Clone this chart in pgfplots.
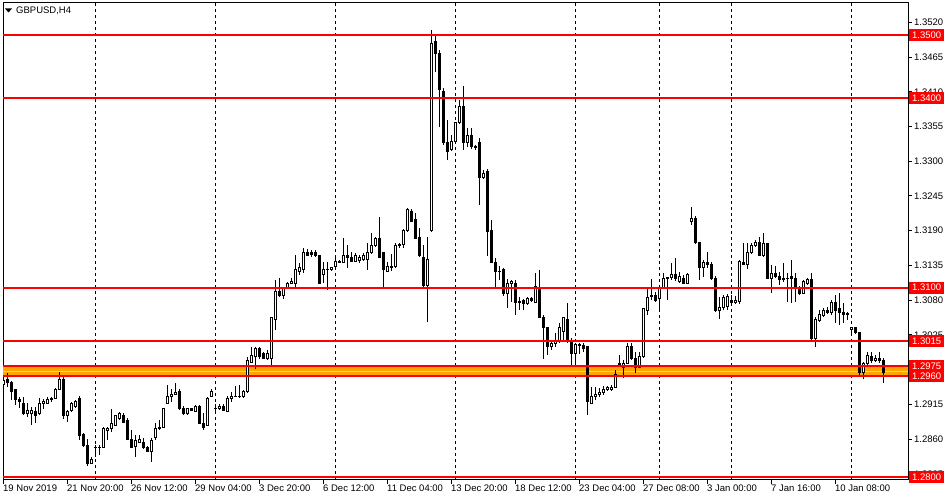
\documentclass[border=0pt]{standalone}
\usepackage{fontspec}
\setmainfont{Liberation Sans}
\usepackage{pgfplots}
\usepackage{pgfplotstable}
\pgfplotsset{compat=1.18}

% GBPUSD H4 candles, bar index, open high low close
\pgfplotstableread{
i o h l c
0 1.2946 1.2957 1.2944 1.2952
1 1.2955 1.2965 1.2942 1.2949
2 1.2950 1.2952 1.2922 1.2935
3 1.2938 1.2939 1.2914 1.2923
4 1.2922 1.2927 1.2909 1.2920
5 1.2917 1.2927 1.2898 1.2901
6 1.2901 1.2917 1.2895 1.2906
7 1.2900 1.2911 1.2882 1.2906
8 1.2904 1.2911 1.2885 1.2898
9 1.2900 1.2925 1.2898 1.2917
10 1.2917 1.2923 1.2908 1.2919
11 1.2917 1.2927 1.2915 1.2923
12 1.2923 1.2927 1.2919 1.2924
13 1.2925 1.2941 1.2923 1.2939
14 1.2939 1.2966 1.2938 1.2954
15 1.2955 1.2958 1.2892 1.2898
16 1.2898 1.2906 1.2887 1.2903
17 1.2906 1.2919 1.2903 1.2917
18 1.2912 1.2922 1.2909 1.2919
19 1.2925 1.2928 1.2858 1.2866
20 1.2868 1.2870 1.2847 1.2850
21 1.2850 1.2860 1.2817 1.2822
22 1.2822 1.2832 1.2820 1.2828
23 1.2847 1.2850 1.2832 1.2846
24 1.2846 1.2850 1.2835 1.2847
25 1.2847 1.2879 1.2846 1.2877
26 1.2873 1.2879 1.2858 1.2877
27 1.2876 1.2908 1.2871 1.2885
28 1.2882 1.2898 1.2881 1.2897
29 1.2893 1.2903 1.2890 1.2901
30 1.2898 1.2901 1.2885 1.2887
31 1.2890 1.2893 1.2858 1.2860
32 1.2860 1.2874 1.2846 1.2847
33 1.2849 1.2866 1.2832 1.2858
34 1.2855 1.2866 1.2854 1.2860
35 1.2855 1.2862 1.2844 1.2847
36 1.2847 1.2849 1.2839 1.2841
37 1.2841 1.2862 1.2824 1.2858
38 1.2862 1.2885 1.2858 1.2877
39 1.2877 1.2890 1.2874 1.2879
40 1.2879 1.2909 1.2877 1.2908
41 1.2917 1.2946 1.2915 1.2928
42 1.2927 1.2939 1.2919 1.2931
43 1.2931 1.2949 1.2930 1.2933
44 1.2935 1.2939 1.2906 1.2908
45 1.2908 1.2912 1.2898 1.2901
46 1.2900 1.2909 1.2898 1.2908
47 1.2908 1.2909 1.2904 1.2906
48 1.2904 1.2914 1.2903 1.2912
49 1.2911 1.2914 1.2884 1.2885
50 1.2885 1.2901 1.2874 1.2879
51 1.2882 1.2927 1.2881 1.2925
52 1.2928 1.2939 1.2927 1.2935
53 1.2909 1.2915 1.2901 1.2908
54 1.2909 1.2915 1.2906 1.2911
55 1.2911 1.2915 1.2904 1.2906
56 1.2904 1.2928 1.2903 1.2925
57 1.2925 1.2935 1.2919 1.2928
58 1.2928 1.2944 1.2927 1.2927
59 1.2927 1.2946 1.2925 1.2928
60 1.2927 1.2938 1.2925 1.2935
61 1.2935 1.2990 1.2933 1.2984
62 1.2982 1.3006 1.2980 1.2993
63 1.2990 1.3006 1.2971 1.3004
64 1.3004 1.3006 1.2987 1.2990
65 1.2995 1.2998 1.2987 1.2988
66 1.2988 1.3001 1.2985 1.2996
67 1.2987 1.3053 1.2977 1.3052
68 1.3050 1.3112 1.3033 1.3093
69 1.3093 1.3115 1.3085 1.3088
70 1.3088 1.3101 1.3082 1.3099
71 1.3099 1.3109 1.3099 1.3107
72 1.3107 1.3115 1.3105 1.3109
73 1.3107 1.3152 1.3101 1.3129
74 1.3125 1.3139 1.3120 1.3131
75 1.3128 1.3163 1.3123 1.3155
76 1.3156 1.3161 1.3151 1.3151
77 1.3156 1.3159 1.3149 1.3153
78 1.3156 1.3159 1.3148 1.3150
79 1.3150 1.3151 1.3106 1.3107
80 1.3120 1.3140 1.3107 1.3128
81 1.3128 1.3140 1.3096 1.3129
82 1.3128 1.3133 1.3126 1.3131
83 1.3134 1.3147 1.3131 1.3142
84 1.3142 1.3144 1.3139 1.3140
85 1.3140 1.3178 1.3139 1.3150
86 1.3151 1.3167 1.3131 1.3148
87 1.3148 1.3156 1.3140 1.3142
88 1.3142 1.3155 1.3140 1.3150
89 1.3143 1.3151 1.3139 1.3148
90 1.3145 1.3155 1.3142 1.3151
91 1.3145 1.3171 1.3128 1.3155
92 1.3155 1.3186 1.3153 1.3167
93 1.3166 1.3180 1.3164 1.3178
94 1.3178 1.3212 1.3147 1.3148
95 1.3155 1.3156 1.3101 1.3129
96 1.3126 1.3140 1.3125 1.3134
97 1.3131 1.3153 1.3126 1.3134
98 1.3134 1.3171 1.3131 1.3167
99 1.3167 1.3171 1.3163 1.3168
100 1.3168 1.3193 1.3163 1.3190
101 1.3190 1.3226 1.3188 1.3223
102 1.3221 1.3224 1.3204 1.3205
103 1.3207 1.3218 1.3177 1.3178
104 1.3180 1.3194 1.3148 1.3151
105 1.3148 1.3167 1.3101 1.3104
106 1.3104 1.3180 1.3045 1.3144
107 1.3191 1.3508 1.3188 1.3487
108 1.3489 1.3500 1.3441 1.3470
109 1.3470 1.3476 1.3354 1.3413
110 1.3411 1.3416 1.3326 1.3329
111 1.3329 1.3365 1.3302 1.3316
112 1.3319 1.3342 1.3316 1.3331
113 1.3331 1.3362 1.3329 1.3361
114 1.3361 1.3397 1.3359 1.3386
115 1.3386 1.3419 1.3318 1.3329
116 1.3329 1.3353 1.3323 1.3340
117 1.3340 1.3353 1.3319 1.3323
118 1.3323 1.3326 1.3318 1.3322
119 1.3330 1.3337 1.3231 1.3275
120 1.3275 1.3286 1.3272 1.3281
121 1.3283 1.3288 1.3150 1.3188
122 1.3190 1.3207 1.3139 1.3140
123 1.3140 1.3147 1.3099 1.3125
124 1.3125 1.3134 1.3112 1.3126
125 1.3128 1.3131 1.3087 1.3091
126 1.3091 1.3114 1.3068 1.3107
127 1.3107 1.3112 1.3077 1.3109
128 1.3107 1.3112 1.3056 1.3077
129 1.3077 1.3085 1.3064 1.3078
130 1.3079 1.3082 1.3064 1.3074
131 1.3074 1.3085 1.3072 1.3082
132 1.3082 1.3085 1.3077 1.3080
133 1.3077 1.3123 1.3076 1.3102
134 1.3099 1.3128 1.3053 1.3053
135 1.3053 1.3056 1.2987 1.3036
136 1.3036 1.3037 1.2993 1.3006
137 1.3006 1.3017 1.3001 1.3012
138 1.3012 1.3028 1.3006 1.3014
139 1.3014 1.3044 1.3013 1.3036
140 1.3030 1.3053 1.3017 1.3052
141 1.3050 1.3076 1.3012 1.3014
142 1.3014 1.3020 1.2977 1.2996
143 1.2996 1.3012 1.2980 1.3009
144 1.3009 1.3012 1.2995 1.3008
145 1.3008 1.3012 1.2998 1.3004
146 1.3006 1.3007 1.2898 1.2919
147 1.2917 1.2942 1.2915 1.2928
148 1.2927 1.2942 1.2922 1.2931
149 1.2930 1.2941 1.2927 1.2933
150 1.2933 1.2944 1.2930 1.2939
151 1.2939 1.2944 1.2936 1.2941
152 1.2939 1.2946 1.2936 1.2942
153 1.2942 1.2969 1.2941 1.2963
154 1.2980 1.2993 1.2974 1.2975
155 1.2974 1.2985 1.2957 1.2980
156 1.2980 1.3012 1.2979 1.3006
157 1.3006 1.3012 1.2985 1.2988
158 1.2988 1.2998 1.2965 1.2974
159 1.2974 1.2998 1.2972 1.2990
160 1.2990 1.3068 1.2988 1.3066
161 1.3064 1.3099 1.3056 1.3085
162 1.3085 1.3114 1.3080 1.3088
163 1.3088 1.3093 1.3077 1.3080
164 1.3082 1.3101 1.3061 1.3099
165 1.3099 1.3123 1.3098 1.3115
166 1.3115 1.3117 1.3080 1.3116
167 1.3116 1.3139 1.3112 1.3121
168 1.3120 1.3147 1.3110 1.3115
169 1.3109 1.3125 1.3107 1.3117
170 1.3115 1.3120 1.3106 1.3107
171 1.3107 1.3123 1.3105 1.3121
172 1.3205 1.3228 1.3199 1.3210
173 1.3210 1.3213 1.3169 1.3171
174 1.3171 1.3172 1.3112 1.3131
175 1.3131 1.3144 1.3117 1.3140
176 1.3140 1.3156 1.3131 1.3137
177 1.3137 1.3140 1.3112 1.3115
178 1.3115 1.3118 1.3061 1.3064
179 1.3064 1.3085 1.3050 1.3069
180 1.3069 1.3088 1.3064 1.3085
181 1.3070 1.3090 1.3064 1.3085
182 1.3080 1.3088 1.3071 1.3076
183 1.3076 1.3087 1.3074 1.3079
184 1.3078 1.3144 1.3074 1.3142
185 1.3140 1.3171 1.3135 1.3137
186 1.3137 1.3171 1.3129 1.3156
187 1.3155 1.3171 1.3153 1.3167
188 1.3166 1.3175 1.3164 1.3172
189 1.3171 1.3180 1.3150 1.3151
190 1.3150 1.3186 1.3148 1.3169
191 1.3169 1.3171 1.3113 1.3115
192 1.3115 1.3136 1.3091 1.3123
193 1.3123 1.3134 1.3115 1.3118
194 1.3118 1.3125 1.3104 1.3112
195 1.3112 1.3139 1.3109 1.3114
196 1.3114 1.3123 1.3077 1.3115
197 1.3118 1.3144 1.3076 1.3115
198 1.3115 1.3123 1.3077 1.3098
199 1.3099 1.3102 1.3088 1.3091
200 1.3091 1.3112 1.3090 1.3109
201 1.3107 1.3115 1.3104 1.3112
202 1.3112 1.3123 1.3014 1.3020
203 1.3020 1.3053 1.3006 1.3049
204 1.3047 1.3064 1.3045 1.3058
205 1.3056 1.3068 1.3053 1.3064
206 1.3064 1.3069 1.3058 1.3060
207 1.3060 1.3080 1.3056 1.3077
208 1.3077 1.3088 1.3044 1.3064
209 1.3066 1.3091 1.3041 1.3061
210 1.3061 1.3076 1.3044 1.3058
211 1.3059 1.3061 1.3049 1.3057
212 1.3033 1.3037 1.3025 1.3036
213 1.3036 1.3037 1.3026 1.3028
214 1.3028 1.3029 1.2958 1.2966
215 1.2966 1.2982 1.2955 1.2980
216 1.2980 1.2998 1.2977 1.2992
217 1.2990 1.2998 1.2980 1.2984
218 1.2984 1.2993 1.2982 1.2988
219 1.2988 1.2998 1.2980 1.2984
220 1.2984 1.2988 1.2949 1.2966
}\candles

\definecolor{mtorange}{HTML}{FFA500}

\pgfplotsset{
  mtframe/.style={
    width=905pt, height=477pt, scale only axis,
    xmin=-0.125, xmax=226.125, ymin=1.27952, ymax=1.35506,
    at={(3pt,20pt)}, anchor=south west,
  },
  lvl/.style={red, line width=2pt, forget plot},
}
\tikzset{pricetag/.style={fill=red, text=white, anchor=west, inner xsep=3pt, inner ysep=0pt,
  minimum height=12pt, xshift=1pt, font=\fontsize{9.5}{11}\selectfont}}

\begin{document}
\begin{tikzpicture}
\path[use as bounding box, fill=white] (0,0) rectangle (950pt,500pt);

% frame, ticks, band, week separators, wicks
\begin{axis}[mtframe,
  axis line style={black, line width=1pt},
  tick style={black, line width=1pt},
  tick align=outside, major tick length=4pt,
  xtick pos=bottom, ytick pos=right,
  xtick={-0.125,15.875,31.875,47.875,63.875,79.875,95.875,111.875,127.875,143.875,159.875,175.875,191.875,207.875},
  xticklabels={19 Nov 2019,21 Nov 20:00,26 Nov 12:00,29 Nov 04:00,3 Dec 20:00,6 Dec 12:00,11 Dec 04:00,13 Dec 20:00,18 Dec 12:00,23 Dec 04:00,27 Dec 08:00,3 Jan 00:00,7 Jan 16:00,10 Jan 08:00},
  ytick={1.2805,1.2860,1.2915,1.2970,1.3025,1.3080,1.3135,1.3190,1.3245,1.3300,1.3355,1.3410,1.3465,1.3520},
  yticklabels={1.2805,1.2860,1.2915,1.2970,1.3025,1.3080,1.3135,1.3190,1.3245,1.3300,1.3355,1.3410,1.3465,1.3520},
  yticklabel pos=right,
  ticklabel style={font=\fontsize{9.5}{11}\selectfont},
  xticklabel style={anchor=north west, inner sep=0pt, yshift=-1pt},
  yticklabel style={anchor=west, inner sep=0pt, xshift=2pt},
  extra x ticks={22.875,52.875,82.875,112.875,142.875,163.875,181.875,211.875},
  extra x tick labels={},
  extra x tick style={grid=major, major tick length=0pt},
  major grid style={black, line width=1pt, dash pattern=on 3pt off 3pt},
]
\addplot[fill=mtorange, draw=none, forget plot] coordinates {(-0.125,1.2960) (226.125,1.2960) (226.125,1.2975) (-0.125,1.2975)} -- cycle;
\addplot[orange!40!white, line width=1pt, forget plot] coordinates {(-0.125,1.29675) (226.125,1.29675)};
\addplot[draw=none, mark=none,
  error bars/.cd, y dir=both, y explicit, error mark=none,
  error bar style={draw=black, line width=1pt}]
  table[x=i, y expr={(\thisrow{h}+\thisrow{l})/2}, y error expr={(\thisrow{h}-\thisrow{l})/2}] \candles;
\end{axis}

% candle bodies: hollow up, black down
\begin{axis}[mtframe, axis lines=none, ybar stacked, bar width=2pt]
\addplot[draw=none, fill=none] table[x=i, y expr={min(\thisrow{o},\thisrow{c})}] \candles;
\addplot[draw=black, fill=white, line width=1pt] table[x=i, y expr={max(\thisrow{c}-\thisrow{o},0)}] \candles;
\addplot[draw=black, fill=black, line width=1pt] table[x=i, y expr={max(\thisrow{o}-\thisrow{c},0)}] \candles;
\end{axis}

% horizontal levels and their price tags
\begin{axis}[mtframe, axis lines=none, clip=false]
\addplot[lvl] coordinates {(-0.125,1.3500) (226.125,1.3500)};
\addplot[lvl] coordinates {(-0.125,1.3400) (226.125,1.3400)};
\addplot[lvl] coordinates {(-0.125,1.3100) (226.125,1.3100)};
\addplot[lvl] coordinates {(-0.125,1.3015) (226.125,1.3015)};
\addplot[lvl] coordinates {(-0.125,1.2975) (226.125,1.2975)};
\addplot[lvl] coordinates {(-0.125,1.2960) (226.125,1.2960)};
\addplot[lvl] coordinates {(-0.125,1.2800) (226.125,1.2800)};
\node[pricetag] at (axis cs:226.125,1.3500) {1.3500};
\node[pricetag] at (axis cs:226.125,1.3400) {1.3400};
\node[pricetag] at (axis cs:226.125,1.3100) {1.3100};
\node[pricetag] at (axis cs:226.125,1.3015) {1.3015};
\node[pricetag] at (axis cs:226.125,1.2975) {1.2975};
\node[pricetag] at (axis cs:226.125,1.2960) {1.2960};
\node[pricetag] at (axis cs:226.125,1.2800) {1.2800};
\end{axis}

% symbol caption
\fill[black] (5pt,491.5pt) -- (12pt,491.5pt) -- (8.5pt,487.5pt) -- cycle;
\node[anchor=west, inner sep=0pt, font=\fontsize{9.5}{11}\selectfont] at (16pt,489.5pt) {GBPUSD,H4};
\end{tikzpicture}
\end{document}
